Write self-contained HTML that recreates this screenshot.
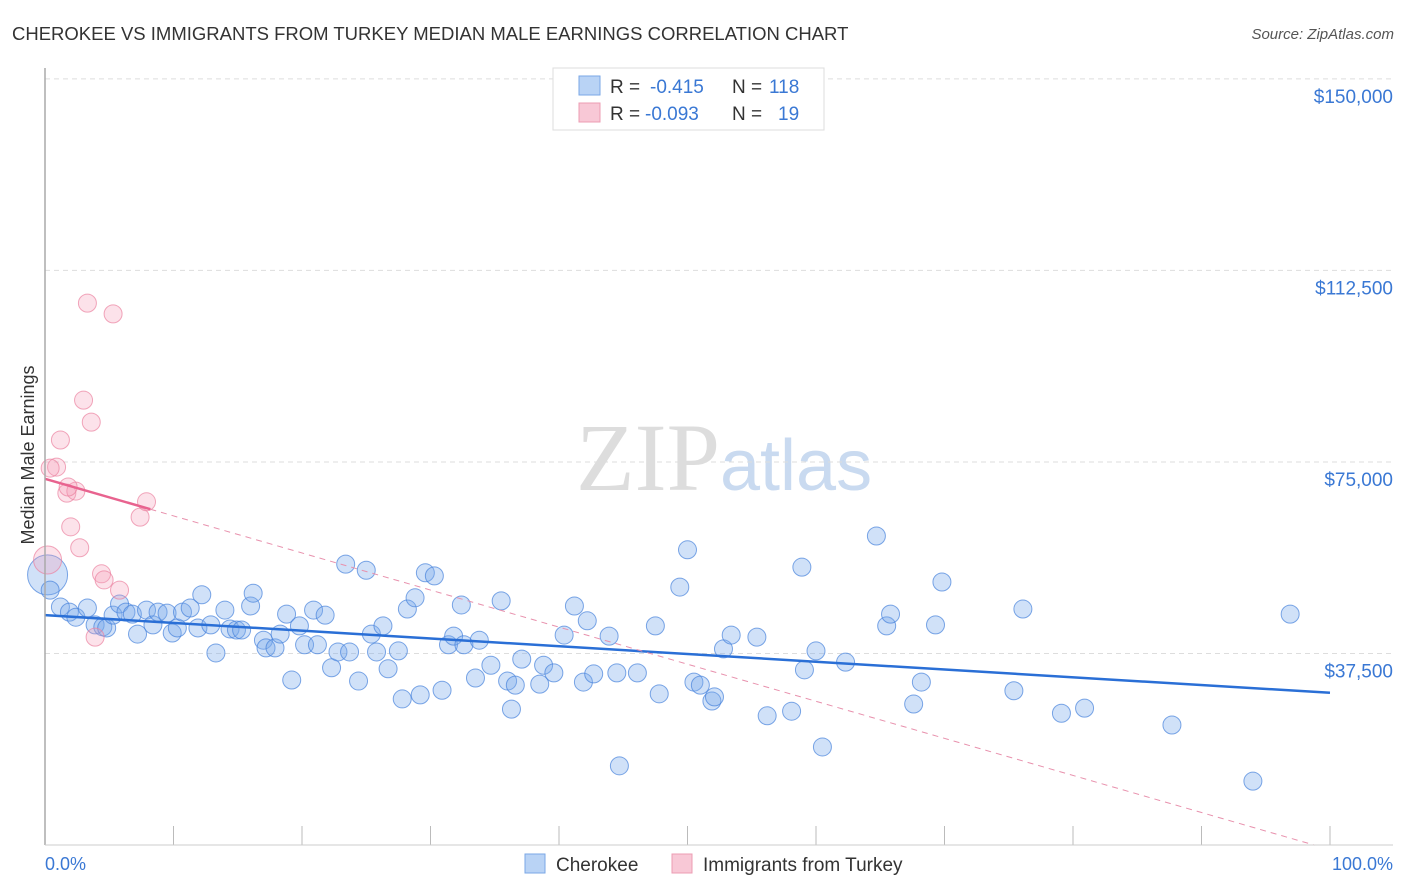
<!DOCTYPE html>
<html><head><meta charset="utf-8"><style>
body{margin:0;background:#fff;font-family:"Liberation Sans",sans-serif}
#wrap{position:relative;width:1406px;height:892px;overflow:hidden}
</style></head><body>
<div id="wrap">
<svg id="svg" width="1406" height="892" xmlns="http://www.w3.org/2000/svg">
<text x="12" y="40" font-size="18.5" fill="#333">CHEROKEE VS IMMIGRANTS FROM TURKEY MEDIAN MALE EARNINGS CORRELATION CHART</text>
<text x="1394" y="39" font-size="15" font-style="italic" fill="#555" text-anchor="end">Source: ZipAtlas.com</text>
<text x="720" y="490" font-size="96" font-family="Liberation Serif" fill="#ddd" text-anchor="end">ZIP</text>
<text x="720" y="490" font-size="72" fill="#c9daf0">atlas</text>
<text transform="translate(34,455) rotate(-90)" font-size="18" fill="#333" text-anchor="middle">Median Male Earnings</text>
<g id="grid"></g><g id="marks"></g>
<line x1="45" y1="68" x2="45" y2="845" stroke="#aaa" stroke-width="1.5"/>
<line x1="45" y1="845" x2="1393" y2="845" stroke="#ccc"/>
<text x="45" y="870" font-size="18" fill="#3a78d4">0.0%</text>
<text x="1393" y="870" font-size="18" fill="#3a78d4" text-anchor="end">100.0%</text>
<g>
<rect x="553" y="68" width="271" height="62" fill="#fff" stroke="#ddd"/>
<rect x="579" y="76" width="21" height="19" fill="#b9d3f5" stroke="#7aa7e6"/>
<rect x="579" y="103" width="21" height="19" fill="#f8c8d6" stroke="#ec9cb3"/>
<text x="610" y="93" font-size="19" fill="#333">R = </text><text x="650" y="93" font-size="19" fill="#3a78d4">-0.415</text>
<text x="732" y="93" font-size="19" fill="#333">N = </text><text x="769" y="93" font-size="19" fill="#3a78d4">118</text>
<text x="610" y="120" font-size="19" fill="#333">R = </text><text x="645" y="120" font-size="19" fill="#3a78d4">-0.093</text>
<text x="732" y="120" font-size="19" fill="#333">N = </text><text x="778" y="120" font-size="19" fill="#3a78d4">19</text>
</g>
<g>
<rect x="525" y="854" width="20" height="19" fill="#b9d3f5" stroke="#7aa7e6"/>
<text x="556" y="871" font-size="19" fill="#333">Cherokee</text>
<rect x="672" y="854" width="20" height="19" fill="#f8c8d6" stroke="#ec9cb3"/>
<text x="703" y="871" font-size="19" fill="#333">Immigrants from Turkey</text>
</g>
</svg>
</div>
<script>
const yTicks=[37500,75000,112500,150000];
const yTickLabels=["$37,500","$75,000","$112,500","$150,000"];
const xTicks=[0,10,20,30,40,50,60,70,80,90,100];
const blueX=[0.2,0.4,1.2,1.9,2.4,3.3,3.9,4.5,4.8,5.3,5.8,6.3,6.8,7.2,7.9,8.4,8.8,9.5,9.9,10.3,10.7,11.3,11.9,12.2,12.9,13.3,14.0,14.4,14.9,15.3,16.0,16.2,17.0,17.2,17.9,18.3,18.8,19.2,19.8,20.2,20.9,21.2,21.8,22.3,22.8,23.4,23.7,24.4,25.0,25.4,25.8,26.3,26.7,27.5,27.8,28.2,28.8,29.2,29.6,30.3,30.9,31.4,31.8,32.4,32.6,33.5,33.8,34.7,35.5,36.0,36.3,36.6,37.1,38.5,38.8,39.6,40.4,41.2,41.9,42.2,42.7,43.9,44.5,44.7,46.1,47.5,47.8,49.4,50.0,50.5,51.0,51.9,52.1,52.8,53.4,55.4,56.2,58.1,58.9,59.1,60.0,60.5,62.3,64.7,65.5,65.8,67.6,68.2,69.3,69.8,75.4,76.1,79.1,80.9,87.7,94.0,96.9];
const blueY=[52.9,49.9,46.6,45.6,44.6,46.4,43.1,42.7,42.5,45.0,47.2,45.6,45.2,41.3,46.0,43.1,45.6,45.4,41.5,42.5,45.6,46.4,42.5,49.0,43.1,37.6,46.0,42.3,42.1,42.1,46.8,49.3,40.1,38.6,38.6,41.3,45.2,32.3,42.9,39.2,46.0,39.2,45.0,34.7,37.8,55.0,37.8,32.1,53.8,41.3,37.8,42.9,34.5,38.0,28.6,46.2,48.4,29.4,53.3,52.7,30.3,39.2,40.9,47.0,39.2,32.7,40.1,35.2,47.8,32.1,26.6,31.3,36.4,31.5,35.2,33.7,41.1,46.8,31.9,43.9,33.5,40.9,33.7,15.5,33.7,42.9,29.6,50.5,57.8,31.9,31.3,28.2,29.0,38.4,41.1,40.7,25.3,26.2,54.4,34.3,38.0,19.2,35.8,60.5,42.9,45.2,27.6,31.9,43.1,51.5,30.2,46.2,25.8,26.8,23.5,12.5,45.2];
const pinkX=[0.2,0.9,0.4,1.2,1.7,2.4,2.0,2.7,3.3,3.0,3.6,4.4,4.6,5.3,5.8,7.4,7.9,3.9,1.8];
const pinkY=[55.8,74.0,73.8,79.3,68.9,69.3,62.3,58.2,106.1,87.1,82.8,53.1,51.9,104.0,49.9,64.2,67.2,40.7,70.1];
const blueTrend=[45.0,29.8];
const pinkTrend=[71.7,-0.726];
const NS="http://www.w3.org/2000/svg";
const X=p=>45+p*12.85, Y=v=>845-v*1000/195.8;
const grid=document.getElementById('grid'), marks=document.getElementById('marks'), svg=document.getElementById('svg');
function mk(t,a,parent){const e=document.createElementNS(NS,t);for(const k in a)e.setAttribute(k,a[k]);parent.appendChild(e);return e;}
yTicks.forEach((v,i)=>{
 const l=mk('line',{x1:45,x2:1393,y1:Y(v/1000),y2:Y(v/1000),stroke:'#ddd','stroke-dasharray':'5,4'},grid);
 
 
 const t=mk('text',{x:1393,y:Y(v/1000)+24,'font-size':19,fill:'#3a78d4','text-anchor':'end'},grid);
 t.textContent=yTickLabels[i];
 
 
});
xTicks.forEach(p=>{
 const l=mk('line',{x1:X(p),x2:X(p),y1:826,y2:845,stroke:'#bbb'},grid);
 
 
});
blueX.forEach((x,i)=>{
 const c=mk('circle',{cx:X(x),cy:Y(blueY[i]),r:i==0?20:9,fill:'rgba(120,170,235,0.35)',stroke:'rgba(70,130,220,0.7)','stroke-width':1},marks);
 
 
});
pinkX.forEach((x,i)=>{
 const c=mk('circle',{cx:X(x),cy:Y(pinkY[i]),r:i==0?14:9,fill:'rgba(245,160,185,0.3)',stroke:'rgba(235,130,160,0.7)','stroke-width':1},marks);
 
 
});
let l=mk('line',{x1:X(0),y1:Y(blueTrend[0]),x2:X(100),y2:Y(blueTrend[1]),stroke:'#2a6fd6','stroke-width':2.5},marks);


const pEnd=100*0.988;
l=mk('line',{x1:X(8.2),y1:Y(pinkTrend[0]+pinkTrend[1]*8.2),x2:X(pEnd),y2:Y(pinkTrend[0]+pinkTrend[1]*pEnd),stroke:'#e891ad','stroke-width':1,'stroke-dasharray':'6,5'},marks);


l=mk('line',{x1:X(0),y1:Y(pinkTrend[0]),x2:X(8.2),y2:Y(pinkTrend[0]+pinkTrend[1]*8.2),stroke:'#e8638f','stroke-width':2.5},marks);


</script>
</body></html>
